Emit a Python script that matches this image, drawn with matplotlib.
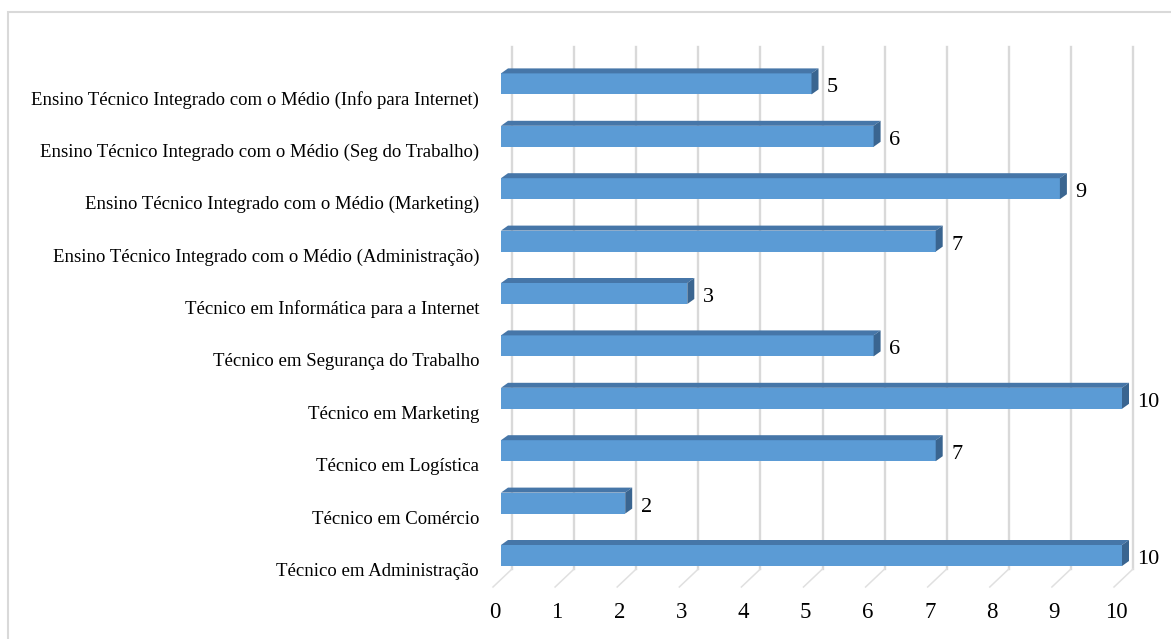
import matplotlib.pyplot as plt
import numpy as np
from matplotlib.patches import Polygon, Rectangle

plt.rcParams['font.family'] = ['Liberation Serif', 'DejaVu Serif']

# categories from bottom to top
cursos = ["Técnico em Administração",
          "Técnico em Comércio",
          "Técnico em Logística",
          "Técnico em Marketing",
          "Técnico em Segurança do Trabalho",
          "Técnico em Informática para a Internet",
          "Ensino Técnico Integrado com o Médio (Administração)",
          "Ensino Técnico Integrado com o Médio (Marketing)",
          "Ensino Técnico Integrado com o Médio (Seg do Trabalho)",
          "Ensino Técnico Integrado com o Médio (Info para Internet)"]
valores = [10, 2, 7, 10, 6, 3, 7, 9, 6, 5]
x_ticks = list(range(11))

W, H = 1171, 639
fig = plt.figure(figsize=(W / 100, H / 100), dpi=100)

# pixel layout (front face: 0 -> 501 px, 10 -> 1122 px)
px_unit_x = 62.1
px_unit_y = 52.4
x0_px = 501
y0_px = 555.5          # centre of the lowest bar (image coords)
ax_l, ax_r = 485, 1165
ax_t, ax_b = 20, 632

ax = fig.add_axes([ax_l / W, (H - ax_b) / H, (ax_r - ax_l) / W, (ax_b - ax_t) / H])
ax.set_xlim((ax_l - x0_px) / px_unit_x, (ax_r - x0_px) / px_unit_x)
ax.set_ylim((y0_px - ax_b) / px_unit_y, (y0_px - ax_t) / px_unit_y)
for s in ax.spines.values():
    s.set_visible(False)

pos = np.arange(len(cursos))
bar_h = 21 / px_unit_y
dx = 7 / px_unit_x
dy = 5 / px_unit_y

# back gridlines and the floor lines
back_dx = 11 / px_unit_x
g_top = (y0_px - 47) / px_unit_y
g_bot = (y0_px - 569) / px_unit_y
f_x = -19 / px_unit_x
f_bot = (y0_px - 587) / px_unit_y
grid_col = "#d9d9d9"
for t in x_ticks:
    ax.plot([t + back_dx, t + back_dx], [g_bot, g_top], color=grid_col, lw=1.7, zorder=1)
    ax.plot([t + back_dx, t + back_dx + f_x], [g_bot, f_bot], color="#e0e0e0", lw=1.1, zorder=1)

# bars with a 3d look
front_col = "#5b9bd5"
top_col = "#4676a8"
side_col = "#3a6590"
ax.barh(pos, valores, height=bar_h, color=front_col, zorder=3)
for p, v in zip(pos, valores):
    yt = p + bar_h / 2
    yb = p - bar_h / 2
    ax.add_patch(Polygon([(0, yt), (dx, yt + dy), (v + dx, yt + dy), (v, yt)],
                         closed=True, facecolor=top_col, edgecolor="none", zorder=3))
    ax.add_patch(Polygon([(v, yb), (v, yt), (v + dx, yt + dy), (v + dx, yb + dy)],
                         closed=True, facecolor=side_col, edgecolor="none", zorder=3))
    ax.text(v + 15.5 / px_unit_x, p - 4 / px_unit_y, str(v), fontsize=16,
            ha="left", va="center", color="black", zorder=4)

# category labels
ax.set_yticks(pos - 14 / px_unit_y)
ax.set_yticklabels(cursos, fontsize=13.5)
ax.tick_params(axis="y", length=0, pad=4.3)

# value axis labels
ax.set_xticks([])
lab_y = (y0_px - 612) / px_unit_y
for t in x_ticks:
    ax.text(t - 6 / px_unit_x, lab_y, str(t), fontsize=16.5, ha="center", va="center")

# chart area border
fig.patches.append(Rectangle((8 / W, -0.05), 1.2, (H - 12) / H + 0.05,
                             transform=fig.transFigure, facecolor="none",
                             edgecolor="#d9d9d9", lw=1.5))

fig.savefig("out.png", dpi=100)
